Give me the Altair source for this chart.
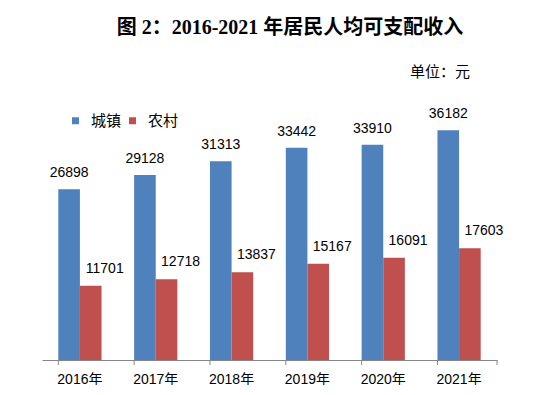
import altair as alt
import pandas as pd

years = ["2016年", "2017年", "2018年", "2019年", "2020年", "2021年"]
series = ["城镇", "农村"]
urban = [26898, 29128, 31313, 33442, 33910, 36182]
rural = [11701, 12718, 13837, 15167, 16091, 17603]
colors = ["#4F81BD", "#C0504D"]

rows = []
for y, u, r in zip(years, urban, rural):
    rows.append({"year": y, "series": "城镇", "value": u})
    rows.append({"year": y, "series": "农村", "value": r})
df = pd.DataFrame(rows)

W, H = 455, 254
num_font = "Liberation Sans"
cjk = "'Liberation Sans', 'Noto Sans CJK SC'"

x_enc = alt.X("year:N", sort=years,
              scale=alt.Scale(paddingInner=0.43, paddingOuter=0.215),
              axis=alt.Axis(title=None, labelAngle=0, ticks=False, domainColor="#868686",
                            labelFontSize=14, labelFont=cjk, labelColor="#000000",
                            labelPadding=12))
xo = alt.XOffset("series:N", scale=alt.Scale(domain=series))
y_enc = alt.Y("value:Q", scale=alt.Scale(domain=[0, 40000]), axis=None)

bars = alt.Chart(df).mark_bar().encode(
    x=x_enc, xOffset=xo, y=y_enc,
    color=alt.Color("series:N", scale=alt.Scale(domain=series, range=colors),
                    legend=alt.Legend(title=None, orient="none", direction="horizontal",
                                      legendX=26, legendY=7, symbolType="square",
                                      symbolSize=49, labelFontSize=15, labelFont=cjk,
                                      labelColor="#000000", symbolStrokeWidth=0,
                                      columnPadding=3, labelOffset=8))
)

lab_u = alt.Chart(df).transform_filter(alt.datum.series == "城镇").mark_text(
    baseline="middle", dy=-16, fontSize=14, font=num_font, color="#000000").encode(
    x=alt.X("year:N", sort=years), xOffset=xo, y=y_enc, text="value:Q")
lab_r = alt.Chart(df).transform_filter(alt.datum.series == "农村").mark_text(
    baseline="middle", dy=-17, dx=14, fontSize=14, font=num_font, color="#000000").encode(
    x=alt.X("year:N", sort=years), xOffset=xo, y=y_enc, text="value:Q")

ticks = alt.Chart(pd.DataFrame({"year": years})).mark_rule(color="#868686").encode(
    x=alt.X("year:N", sort=years, bandPosition=0), y=alt.value(H), y2=alt.value(H + 5))
last_tick = alt.Chart(alt.Data(values=[{}])).mark_rule(color="#868686").encode(
    x=alt.value(W), y=alt.value(H), y2=alt.value(H + 5))

title = alt.Chart(alt.Data(values=[{}])).mark_text(
    fontSize=20, fontWeight="bold", font="'Liberation Serif', 'Noto Sans CJK SC'",
    color="#000000", align="center", baseline="middle").encode(
    x=alt.value(248), y=alt.value(-78), text=alt.value("图 2：2016-2021 年居民人均可支配收入"))
unit = alt.Chart(alt.Data(values=[{}])).mark_text(
    fontSize=15, font=cjk, color="#000000", align="left", baseline="middle").encode(
    x=alt.value(368), y=alt.value(-34), text=alt.value("单位：元"))

chart = alt.layer(bars, lab_u, lab_r, ticks, last_tick, title, unit).properties(
    width=W, height=H,
    autosize=alt.AutoSizeParams(type="none"),
    padding={"left": 34, "top": 98, "right": 34, "bottom": 25},
    background="#FFFFFF",
).configure_view(stroke=None)

chart.save("out.html", embed_options={"renderer": "svg", "actions": False})
